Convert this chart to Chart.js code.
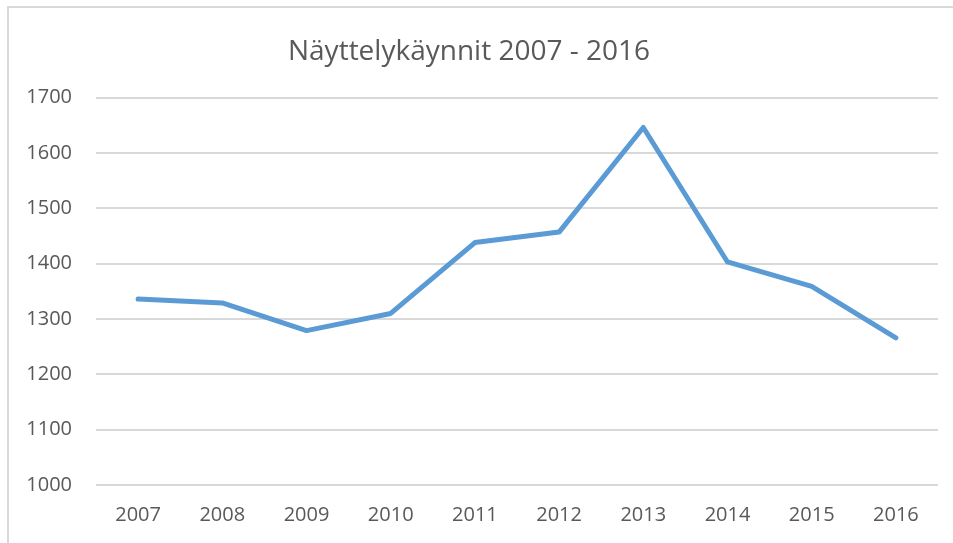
<!DOCTYPE html>
<html lang="fi">
<head>
    <meta charset="UTF-8">
    <title>Näyttelykäynnit 2007 - 2016</title>
    <style>
        body {
            margin: 0;
            padding: 0;
            background: #ffffff;
            overflow: hidden;
        }

        .frame {
            position: absolute;
            left: 7px;
            top: 6px;
            width: 960px;
            height: 560px;
            border-left: 2px solid #d9d9d9;
            border-top: 2px solid #d9d9d9;
        }

        .chart-box {
            position: absolute;
            left: 0;
            top: 0;
            width: 953px;
            height: 543px;
        }
    </style>
</head>
<body>
    <div class="frame"></div>
    <div class="chart-box">
        <canvas id="visitsChart"></canvas>
    </div>

    <script src="https://cdn.jsdelivr.net/npm/chart.js"></script>
    <script>
        const years = ['2007', '2008', '2009', '2010', '2011', '2012', '2013', '2014', '2015', '2016'];
        const visits = [1336, 1329, 1279, 1310, 1438, 1457, 1646, 1403, 1359, 1266];
        const yTicks = [1000, 1100, 1200, 1300, 1400, 1500, 1600, 1700];

        const textColor = '#595959';
        const gridColor = '#d9d9d9';

        const ctx = document.getElementById('visitsChart').getContext('2d');

        new Chart(ctx, {
            type: 'line',
            data: {
                labels: years,
                datasets: [{
                    label: 'Näyttelykäynnit',
                    data: visits,
                    borderColor: '#5b9bd5',
                    borderWidth: 5,
                    pointRadius: 0,
                    tension: 0,
                    borderCapStyle: 'round',
                    borderJoinStyle: 'round',
                    fill: false
                }]
            },
            options: {
                responsive: true,
                maintainAspectRatio: false,
                animation: false,
                layout: {
                    padding: { left: 0, right: 15, top: 0, bottom: 0 }
                },
                plugins: {
                    legend: { display: false },
                    tooltip: { enabled: false },
                    title: {
                        display: true,
                        text: 'Näyttelykäynnit 2007 - 2016',
                        color: textColor,
                        font: { family: 'Open Sans', size: 28, weight: 'normal' },
                        padding: { top: 35, bottom: 29 }
                    }
                },
                scales: {
                    x: {
                        offset: true,
                        grid: { display: false, drawTicks: false, offset: true },
                        border: { display: false },
                        ticks: {
                            color: textColor,
                            font: { family: 'Open Sans', size: 20 },
                            padding: 18,
                            maxRotation: 0
                        },
                        afterFit: scale => { scale.height = 58; }
                    },
                    y: {
                        min: 1000,
                        max: 1700,
                        afterBuildTicks: scale => {
                            scale.ticks = yTicks.map(v => ({ value: v }));
                        },
                        grid: { color: gridColor, lineWidth: 2, drawTicks: false },
                        border: { display: false },
                        ticks: {
                            color: textColor,
                            font: { family: 'Open Sans', size: 20 },
                            padding: 24,
                            callback: v => String(v)
                        },
                        afterFit: scale => { scale.width = 96; }
                    }
                }
            }
        });
    </script>
</body>
</html>
